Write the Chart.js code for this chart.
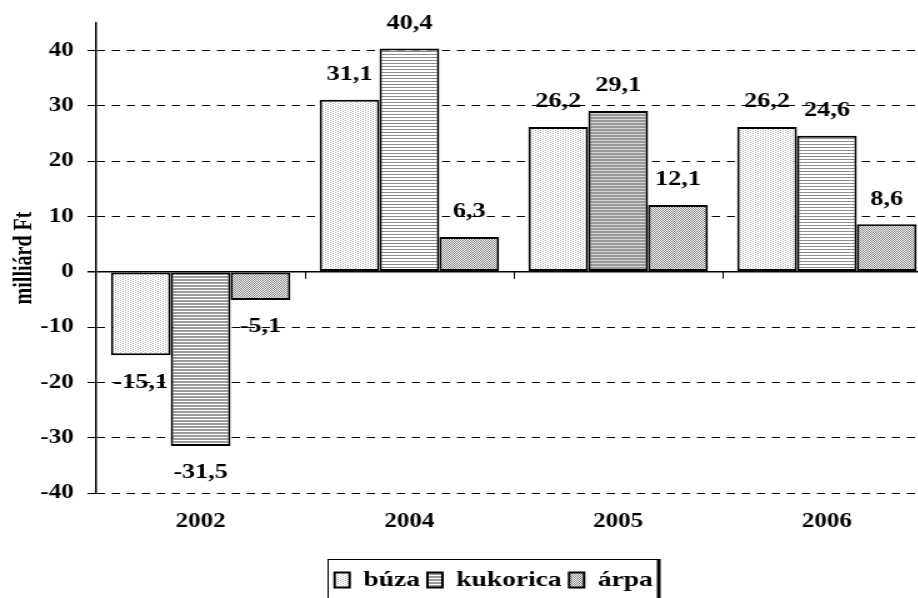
<!DOCTYPE html>
<html>
<head>
<meta charset="utf-8">
<script src="https://cdn.jsdelivr.net/npm/chart.js@4.4.0/dist/chart.umd.min.js"></script>
<style>
  body { margin: 0; background: #fff; }
  #wrap { width: 918px; height: 598px; overflow: hidden; position: relative; }
  /* the reference is stretched sideways, so the canvas is too */
  canvas { position: absolute; left: 0; top: 0; transform: scaleX(1.25); transform-origin: 0 0; }
</style>
</head>
<body>
<div id="wrap"><canvas id="chart" width="834" height="601" style="width:834px;height:601px"></canvas></div>
<script>
// values (milliárd Ft)
var years = ['2002', '2004', '2005', '2006'];
var buza = [-15.1, 31.1, 26.2, 26.2];
var kukorica = [-31.5, 40.4, 29.1, 24.6];
var arpa = [-5.1, 6.3, 12.1, 8.6];
var seriesNames = ['búza', 'kukorica', 'árpa'];
var yTicks = [-40, -30, -20, -10, 0, 10, 20, 30, 40];

var serif = "'Liberation Serif', 'Times New Roman', serif";
var canvas = document.getElementById('chart');
var ctx = canvas.getContext('2d');

// small pixel tiles used as fill patterns
function tile(w, h, draw) {
    var c = document.createElement('canvas');
    c.width = w; c.height = h;
    var g = c.getContext('2d');
    g.fillStyle = '#fff';
    g.fillRect(0, 0, w, h);
    draw(g);
    return ctx.createPattern(c, 'repeat');
}
function stripes(gray, rows, gap, gapColor) {
    return tile(1, rows + gap, function (g) {
        g.fillStyle = gray;
        g.fillRect(0, 0, 1, rows);
        if (gapColor) { g.fillStyle = gapColor; g.fillRect(0, rows, 1, gap); }
    });
}

var dotted = tile(4, 2, function (g) {
    g.fillStyle = '#b8b8b8';
    g.fillRect(0, 0, 1, 1);
    g.fillRect(2, 1, 1, 1);
});
var checker = tile(2, 2, function (g) {
    g.fillStyle = '#808080';
    g.fillRect(0, 0, 1, 1);
    g.fillRect(1, 1, 1, 1);
});
var kukoricaFills = [
    stripes('#9c9c9c', 2, 1),
    stripes('#8c8c8c', 1, 2),
    stripes('#999999', 2, 1, '#d4d4d4'),
    stripes('#8c8c8c', 1, 2)
];

var dataLabels = {
    id: 'dataLabels',
    afterDatasetsDraw: function (chart) {
        var c = chart.ctx;
        c.save();
        c.font = 'bold 21px ' + serif;
        c.fillStyle = '#000';
        c.textAlign = 'center';
        c.textBaseline = 'middle';
        chart.data.datasets.forEach(function (ds, i) {
            chart.getDatasetMeta(i).data.forEach(function (bar, j) {
                var v = ds.data[j];
                var y = v >= 0 ? bar.y - 25 : bar.y + 27;
                c.fillText(v.toFixed(1).replace('.', ','), bar.x, y);
            });
        });
        c.restore();
    }
};

// the legend sits a bit right of the canvas centre in the reference
var legendShift = {
    id: 'legendShift',
    afterLayout: function (chart) {
        var lg = chart.legend, dx = 20;
        lg.left += dx;
        lg.right += dx;
        (lg.legendHitBoxes || []).forEach(function (h) { h.left += dx; });
    }
};

// category separators on the zero line and the legend frame
var extras = {
    id: 'extras',
    afterDraw: function (chart) {
        var c = chart.ctx;
        var x = chart.scales.x, y = chart.scales.y;
        var y0 = y.getPixelForValue(0);
        c.save();
        c.strokeStyle = '#000';
        c.lineWidth = 1;
        for (var i = 0; i < years.length - 1; i++) {
            var xb = Math.round((x.getPixelForValue(i) + x.getPixelForValue(i + 1)) / 2) + 0.5;
            c.beginPath();
            c.moveTo(xb, y0);
            c.lineTo(xb, y0 + 7);
            c.stroke();
        }
        var hb = chart.legend.legendHitBoxes;
        if (hb && hb.length) {
            var l = hb[0].left - 6;
            var last = hb[hb.length - 1];
            var r = last.left + last.width + 4;
            var t = hb[0].top - 10;
            c.strokeRect(Math.round(l) + 0.5, Math.round(t) + 0.5, Math.round(r - l), 60);
            c.lineWidth = 3;
            c.beginPath();
            c.moveTo(Math.round(r) + 1, t);
            c.lineTo(Math.round(r) + 1, t + 60);
            c.stroke();
        }
        c.restore();
    }
};

new Chart(ctx, {
    type: 'bar',
    data: {
        labels: years,
        datasets: [
            { label: seriesNames[0], data: buza, backgroundColor: dotted },
            { label: seriesNames[1], data: kukorica, backgroundColor: kukoricaFills },
            { label: seriesNames[2], data: arpa, backgroundColor: checker }
        ]
    },
    options: {
        responsive: false,
        animation: false,
        devicePixelRatio: 1,
        layout: { padding: { top: 22, left: 5, right: 89, bottom: 0 } },
        datasets: {
            bar: {
                borderColor: '#000',
                borderWidth: 2,
                borderSkipped: false,
                categoryPercentage: 0.86,
                barPercentage: 1
            }
        },
        scales: {
            x: {
                grid: { display: false },
                border: { display: false },
                ticks: { color: '#000', font: { family: serif, size: 20, weight: 'bold' }, padding: 9 },
                afterFit: function (s) { s.height = 70; }
            },
            y: {
                min: -40,
                max: 45,
                afterBuildTicks: function (s) {
                    s.ticks = yTicks.map(function (v) { return { value: v }; });
                },
                grid: {
                    color: '#000',
                    lineWidth: function (c) { return c.tick && c.tick.value === 0 ? 1.5 : 1; },
                    tickLength: 7,
                    tickColor: '#000'
                },
                border: {
                    color: '#000',
                    width: 1.5,
                    dash: function (c) { return c.type === 'tick' && c.tick.value !== 0 ? [6.5, 5.5] : []; }
                },
                ticks: { color: '#000', font: { family: serif, size: 20, weight: 'bold' }, padding: 11 },
                title: {
                    display: true,
                    text: 'milliárd Ft',
                    color: '#000',
                    font: { family: serif, size: 20, weight: 'bold' },
                    padding: { top: 3, bottom: 0 }
                },
                afterFit: function (s) { s.width = 72; }
            }
        },
        plugins: {
            legend: {
                position: 'bottom',
                labels: {
                    color: '#000',
                    boxWidth: 12,
                    boxHeight: 15,
                    padding: 6,
                    font: { family: serif, size: 22, weight: 'bold' }
                }
            },
            tooltip: { enabled: false }
        }
    },
    plugins: [dataLabels, legendShift, extras]
});
</script>
</body>
</html>
